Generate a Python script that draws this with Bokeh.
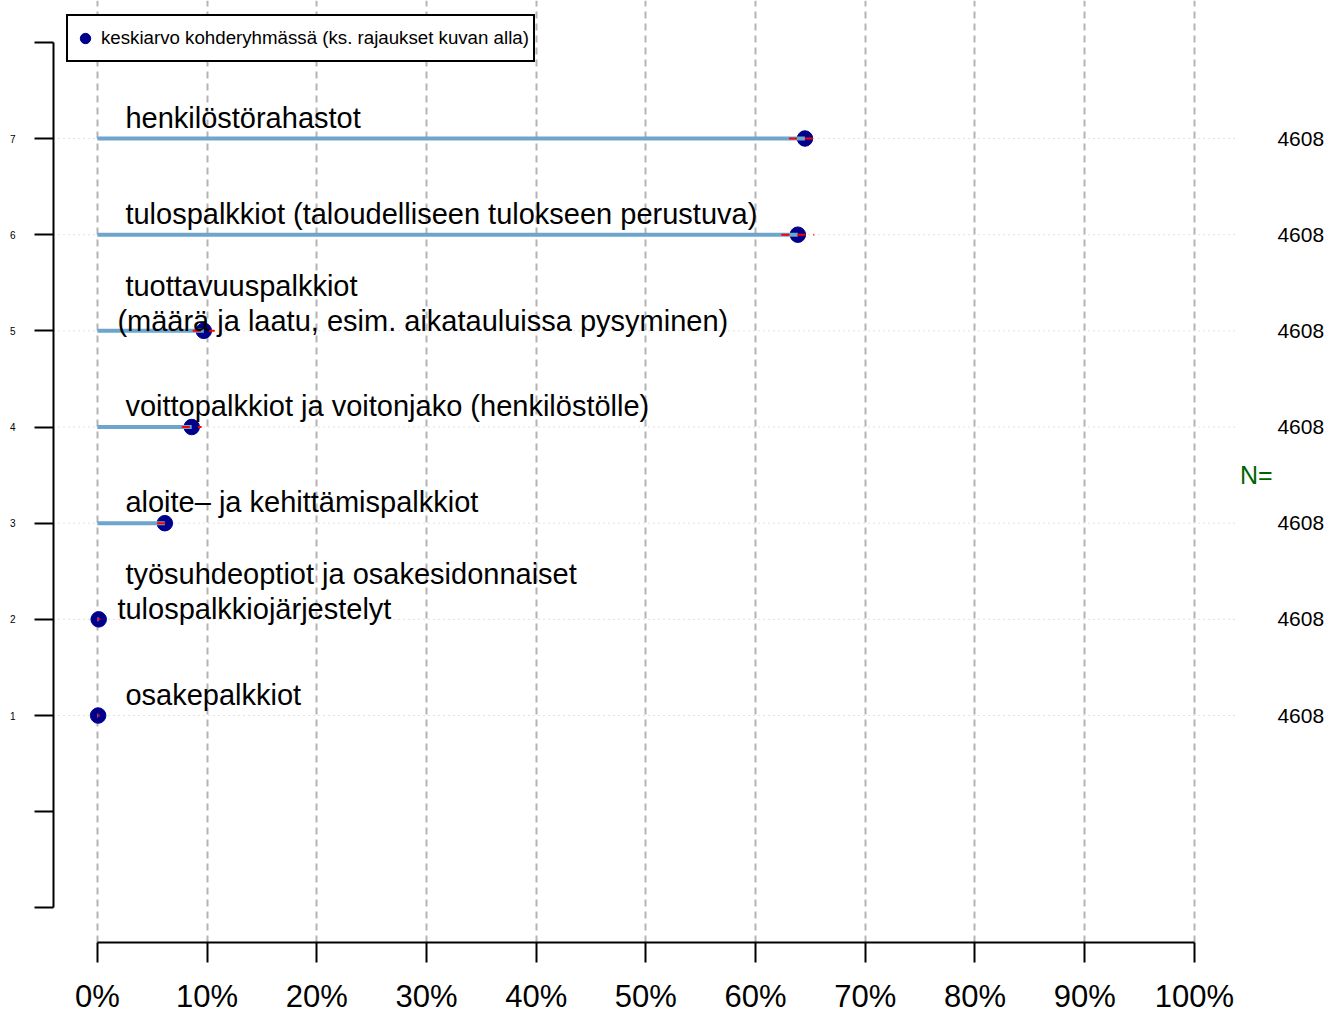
from bokeh.plotting import figure
from bokeh.models import (Range1d, LinearAxis, FixedTicker, PrintfTickFormatter,
                          ColumnDataSource, Legend, LegendItem, Grid)
from bokeh.embed import file_html
from bokeh.resources import INLINE
from bokeh.core.properties import value

# ---------------- data ----------------
categories = [7, 6, 5, 4, 3, 2, 1]
labels = [
    "henkilöstörahastot",
    "tulospalkkiot (taloudelliseen tulokseen perustuva)",
    "tuottavuuspalkkiot\n(määrä ja laatu, esim. aikatauluissa pysyminen)",
    "voittopalkkiot ja voitonjako (henkilöstölle)",
    "aloite– ja kehittämispalkkiot",
    "työsuhdeoptiot ja osakesidonnaiset\ntulospalkkiojärjestelyt",
    "osakepalkkiot",
]
means = [64.5, 63.85, 9.7, 8.6, 6.15, 0.12, 0.07]
ci_low = [63.05, 62.35, 8.7, 7.7, 5.45, 0.0, 0.0]
ci_high = [65.95, 65.35, 10.7, 9.5, 6.85, 0.27, 0.22]
n_values = ["4608", "4608", "4608", "4608", "4608", "4608", "4608"]
x_ticks = [0, 10, 20, 30, 40, 50, 60, 70, 80, 90, 100]
y_ticks = [-1, 0, 1, 2, 3, 4, 5, 6, 7, 8]
y_unlabelled = [-1, 0, 8]
legend_text = "keskiarvo kohderyhmässä (ks. rajaukset kuvan alla)"
n_title = "N="

# plot-region limits (layout, not data)
X_LO, X_HI = -4.0, 113.41
Y_LO, Y_HI = -1.36, 8.435
GRID_X_END = 104.0
N_X = 107.57
N_TITLE_X, N_TITLE_Y = 105.65, 3.5

FONT = "Liberation Sans"

p = figure(width=1341, height=1016, output_backend="svg", toolbar_location=None,
           x_range=Range1d(X_LO, X_HI), y_range=Range1d(Y_LO, Y_HI),
           x_axis_type=None, y_axis_type=None,
           min_border_left=53, min_border_right=0, min_border_top=0,
           min_border_bottom=74)
p.outline_line_color = None
p.background_fill_color = "white"
p.border_fill_color = "white"

# vertical dashed grid
xgrid = Grid(dimension=0, ticker=FixedTicker(ticks=x_ticks),
             grid_line_color="#b4b4b4", grid_line_width=2, grid_line_dash="7 5")
p.add_layout(xgrid)

# axes
xaxis = LinearAxis(ticker=FixedTicker(ticks=x_ticks),
                   formatter=PrintfTickFormatter(format="%d%%"),
                   bounds=(0, 100))
xaxis.axis_line_width = 2
xaxis.axis_line_color = "black"
xaxis.major_tick_line_width = 2
xaxis.major_tick_line_color = "black"
xaxis.major_tick_out = 20
xaxis.major_tick_in = 0
xaxis.minor_tick_line_color = None
xaxis.major_label_text_font = FONT
xaxis.major_label_text_font_size = "31px"
xaxis.major_label_text_color = "black"
xaxis.major_label_standoff = 16
p.add_layout(xaxis, "below")

yaxis = LinearAxis(ticker=FixedTicker(ticks=y_ticks), bounds=(-1, 8),
                   major_label_overrides={t: "" for t in y_unlabelled})
yaxis.axis_line_width = 2
yaxis.axis_line_color = "black"
yaxis.major_tick_line_width = 2
yaxis.major_tick_line_color = "black"
yaxis.major_tick_out = 19
yaxis.major_tick_in = 0
yaxis.minor_tick_line_color = None
yaxis.major_label_text_font = FONT
yaxis.major_label_text_font_size = "10px"
yaxis.major_label_text_color = "black"
yaxis.major_label_standoff = 19
p.add_layout(yaxis, "left")

# marks
k = len(categories)
src = ColumnDataSource(dict(cat=categories, mean=means, lo=ci_low, hi=ci_high,
                            zero=[0] * k, n=n_values,
                            gx0=[X_LO] * k, gx1=[GRID_X_END] * k,
                            nx=[N_X] * k))

# dotted horizontal guide lines at each category
p.segment(x0="gx0", y0="cat", x1="gx1", y1="cat", source=src,
          line_color="#c4c4c4", line_width=1, line_dash="1 4")

dots = p.scatter(x="mean", y="cat", source=src, size=15.5,
                 fill_color="#00008B", line_color="#00008B")
p.segment(x0="zero", y0="cat", x1="mean", y1="cat", source=src,
          line_color="#6CA6CD", line_width=4)
p.segment(x0="lo", y0="cat", x1="hi", y1="cat", source=src,
          line_color="red", line_width=2, line_dash="8 8")

# category labels (split into lines)
lx, ly, lt, lxo, lyo = [], [], [], [], []
for c, lab in zip(categories, labels):
    lines = lab.split("\n")
    n = len(lines)
    for j, t in enumerate(lines):
        lx.append(0)
        ly.append(c)
        lt.append(t)
        lxo.append(28 if j == 0 else 20)
        last = -21 + 11 * (n - 1)
        lyo.append(last - 35 * (n - 1 - j))
lsrc = ColumnDataSource(dict(x=lx, y=ly, text=lt, xo=lxo, yo=lyo))
p.text(x="x", y="y", text="text", x_offset="xo", y_offset="yo", source=lsrc,
       text_font=value(FONT), text_font_size="29px", text_color="black",
       text_align="left", text_baseline="alphabetic")

# N labels
p.text(x="nx", y="cat", text="n", source=src,
       text_font=value(FONT), text_font_size="21px", text_color="black",
       text_align="left", text_baseline="middle")
p.text(x=[N_TITLE_X], y=[N_TITLE_Y], text=[n_title],
       text_font=value(FONT), text_font_size="25px", text_color="#006400",
       text_align="center", text_baseline="middle")

# legend
legend = Legend(items=[LegendItem(label=legend_text, renderers=[dots])],
                location=(13, 880))
legend.border_line_color = "black"
legend.border_line_width = 2
legend.border_line_alpha = 1
legend.background_fill_color = "white"
legend.background_fill_alpha = 1
legend.label_text_font = FONT
legend.label_text_font_size = "18.7px"
legend.label_text_color = "black"
legend.padding = 4
legend.margin = 0
legend.glyph_width = 26
legend.glyph_height = 28
legend.label_height = 36
legend.label_standoff = 3
p.add_layout(legend)

open("out.html", "w").write(file_html(p, INLINE))
